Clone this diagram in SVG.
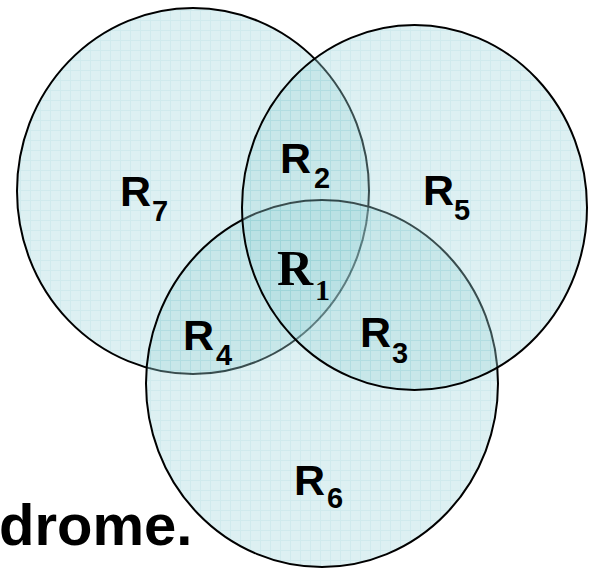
<svg xmlns="http://www.w3.org/2000/svg" width="589" height="569" viewBox="0 0 589 569">
<defs>
<pattern id="grid" width="10" height="10" patternUnits="userSpaceOnUse">
<rect width="10" height="10" fill="#a2d6da"/>
<path d="M0 0.5H10M0.5 0V10" stroke="#7cc6cc" stroke-width="1" fill="none"/>
</pattern>
<style>
.set{fill:url(#grid);fill-opacity:0.36;stroke:#000;stroke-width:2}
.lab{font-family:"Liberation Sans",Arial,sans-serif;font-weight:bold;fill:#000}
.big{font-size:43px}
.sub{font-size:29px}
.serif{font-family:"Liberation Serif","Times New Roman",serif;font-weight:bold;fill:#000}
</style>
</defs>
<rect width="589" height="569" fill="#fff"/>
<g id="set-left"><ellipse class="set" cx="193" cy="191" rx="176" ry="183"/></g>
<g id="set-bottom"><ellipse class="set" cx="322" cy="383.5" rx="176" ry="183.5"/></g>
<g id="set-right"><ellipse class="set" cx="414.5" cy="207.5" rx="172.5" ry="182.5"/></g>
<g id="connectors"></g>
<g id="labels">
<g id="R7"><text class="lab big" x="120" y="206">R</text><text class="lab sub" x="152" y="221">7</text></g>
<g id="R2"><text class="lab big" x="280" y="173">R</text><text class="lab sub" x="314" y="188">2</text></g>
<g id="R5"><text class="lab big" x="423" y="205">R</text><text class="lab sub" x="454" y="220">5</text></g>
<g id="R1"><text class="serif" font-size="50" x="277" y="285">R</text><text class="serif" font-size="30" x="315" y="300">1</text></g>
<g id="R4"><text class="lab big" x="183" y="350">R</text><text class="lab sub" x="216" y="365">4</text></g>
<g id="R3"><text class="lab big" x="360" y="347">R</text><text class="lab sub" x="392" y="363">3</text></g>
<g id="R6"><text class="lab big" x="294" y="495">R</text><text class="lab sub" x="327" y="508">6</text></g>
</g>
<text class="lab" font-size="58" x="-1" y="545">drome.</text>
</svg>
